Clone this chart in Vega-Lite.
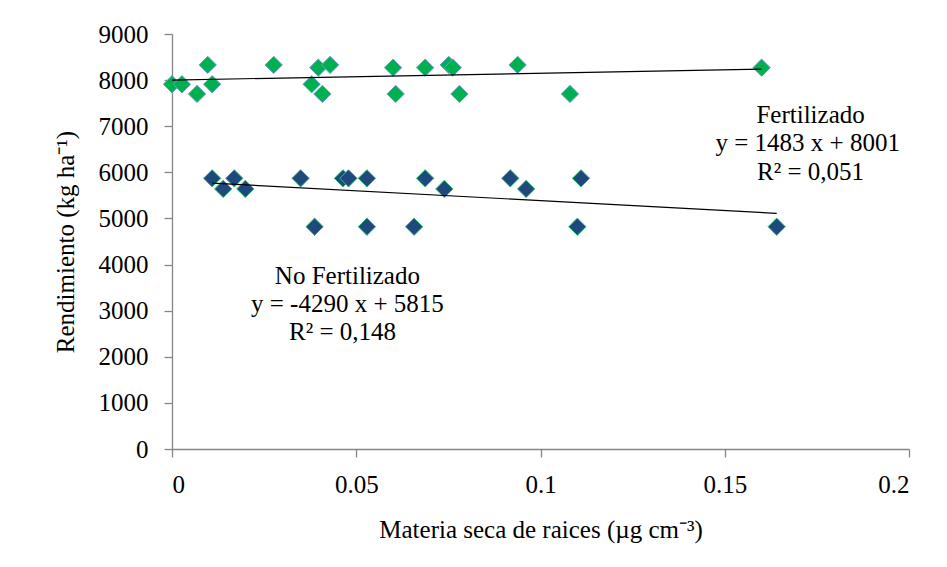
{
  "$schema": "https://vega.github.io/schema/vega-lite/v6.json",
  "autosize": "none",
  "width": 737,
  "height": 415,
  "padding": {"left": 172, "top": 34, "right": 38, "bottom": 118},
  "background": "white",
  "config": {
    "view": {"stroke": null},
    "axis": {
      "grid": false,
      "domainColor": "#868686",
      "domainWidth": 1.3,
      "tickColor": "#868686",
      "tickWidth": 1.3,
      "tickSize": 8,
      "labelFont": "Liberation Serif",
      "labelFontSize": 25,
      "labelColor": "#000000",
      "titleFont": "Liberation Serif",
      "titleFontSize": 25,
      "titleFontWeight": "normal",
      "titleColor": "#000000"
    }
  },
  "datasets": {
    "puntos": [
      {"grupo": "Fertilizado", "x": 0.0, "y": 7910},
      {"grupo": "Fertilizado", "x": 0.0027, "y": 7910},
      {"grupo": "Fertilizado", "x": 0.0068, "y": 7700},
      {"grupo": "Fertilizado", "x": 0.0097, "y": 8330},
      {"grupo": "Fertilizado", "x": 0.0109, "y": 7910},
      {"grupo": "Fertilizado", "x": 0.0276, "y": 8330},
      {"grupo": "Fertilizado", "x": 0.0379, "y": 7910},
      {"grupo": "Fertilizado", "x": 0.0397, "y": 8270},
      {"grupo": "Fertilizado", "x": 0.0408, "y": 7700},
      {"grupo": "Fertilizado", "x": 0.0429, "y": 8330},
      {"grupo": "Fertilizado", "x": 0.0600, "y": 8270},
      {"grupo": "Fertilizado", "x": 0.0607, "y": 7700},
      {"grupo": "Fertilizado", "x": 0.0687, "y": 8270},
      {"grupo": "Fertilizado", "x": 0.0751, "y": 8330},
      {"grupo": "Fertilizado", "x": 0.0762, "y": 8270},
      {"grupo": "Fertilizado", "x": 0.0780, "y": 7700},
      {"grupo": "Fertilizado", "x": 0.0938, "y": 8330},
      {"grupo": "Fertilizado", "x": 0.1080, "y": 7700},
      {"grupo": "Fertilizado", "x": 0.1600, "y": 8270},
      {"grupo": "No Fertilizado", "x": 0.0109, "y": 5870},
      {"grupo": "No Fertilizado", "x": 0.0139, "y": 5640},
      {"grupo": "No Fertilizado", "x": 0.0169, "y": 5870},
      {"grupo": "No Fertilizado", "x": 0.0199, "y": 5640},
      {"grupo": "No Fertilizado", "x": 0.0349, "y": 5870},
      {"grupo": "No Fertilizado", "x": 0.0387, "y": 4820},
      {"grupo": "No Fertilizado", "x": 0.0464, "y": 5870},
      {"grupo": "No Fertilizado", "x": 0.0479, "y": 5870},
      {"grupo": "No Fertilizado", "x": 0.0529, "y": 5870},
      {"grupo": "No Fertilizado", "x": 0.0529, "y": 4820},
      {"grupo": "No Fertilizado", "x": 0.0657, "y": 4820},
      {"grupo": "No Fertilizado", "x": 0.0687, "y": 5870},
      {"grupo": "No Fertilizado", "x": 0.0739, "y": 5640},
      {"grupo": "No Fertilizado", "x": 0.0918, "y": 5870},
      {"grupo": "No Fertilizado", "x": 0.0961, "y": 5640},
      {"grupo": "No Fertilizado", "x": 0.1110, "y": 5870},
      {"grupo": "No Fertilizado", "x": 0.1100, "y": 4820},
      {"grupo": "No Fertilizado", "x": 0.1641, "y": 4820}
    ],
    "tendencias": [
      {"grupo": "Fertilizado", "x": 0.0, "y": 8001},
      {"grupo": "Fertilizado", "x": 0.16, "y": 8238},
      {"grupo": "No Fertilizado", "x": 0.0109, "y": 5768},
      {"grupo": "No Fertilizado", "x": 0.1641, "y": 5111}
    ],
    "textos": [
      {"x": 0.1733, "y": 7070, "label": "Fertilizado"},
      {"x": 0.1725, "y": 6463, "label": "y = 1483 x + 8001"},
      {"x": 0.1733, "y": 5834, "label": "R² = 0,051"},
      {"x": 0.0476, "y": 3578, "label": "No Fertilizado"},
      {"x": 0.0476, "y": 2971, "label": "y = -4290 x + 5815"},
      {"x": 0.0463, "y": 2364, "label": "R² = 0,148"}
    ]
  },
  "encoding": {
    "x": {
      "field": "x",
      "type": "quantitative",
      "scale": {"domain": [0, 0.2], "nice": false, "zero": false},
      "axis": {
        "title": "Materia seca de raices (µg cm⁻³)",
        "values": [0, 0.05, 0.1, 0.15, 0.2],
        "format": "~g",
        "labelPadding": 15,
        "titlePadding": 20
      }
    },
    "y": {
      "field": "y",
      "type": "quantitative",
      "scale": {"domain": [0, 9000], "nice": false},
      "axis": {
        "title": "Rendimiento (kg ha⁻¹)",
        "values": [0, 1000, 2000, 3000, 4000, 5000, 6000, 7000, 8000, 9000],
        "format": "d",
        "labelPadding": 16,
        "titlePadding": 20
      }
    }
  },
  "layer": [
    {
      "data": {"name": "puntos"},
      "mark": {"type": "point", "shape": "diamond", "filled": true, "size": 300, "opacity": 1, "strokeWidth": 1},
      "encoding": {
        "fill": {
          "field": "grupo",
          "type": "nominal",
          "scale": {"domain": ["Fertilizado", "No Fertilizado"], "range": ["#00B050", "#1F497D"]},
          "legend": null
        },
        "stroke": {
          "field": "grupo",
          "type": "nominal",
          "scale": {"domain": ["Fertilizado", "No Fertilizado"], "range": ["#6F9BD1", "#2FBF73"]},
          "legend": null
        }
      }
    },
    {
      "data": {"name": "tendencias"},
      "mark": {"type": "line", "color": "#000000", "strokeWidth": 1.2},
      "encoding": {
        "detail": {"field": "grupo", "type": "nominal"}
      }
    },
    {
      "data": {"name": "textos"},
      "mark": {"type": "text", "font": "Liberation Serif", "fontSize": 25, "color": "#000000", "align": "center", "baseline": "alphabetic"},
      "encoding": {
        "text": {"field": "label", "type": "nominal"}
      }
    }
  ]
}
